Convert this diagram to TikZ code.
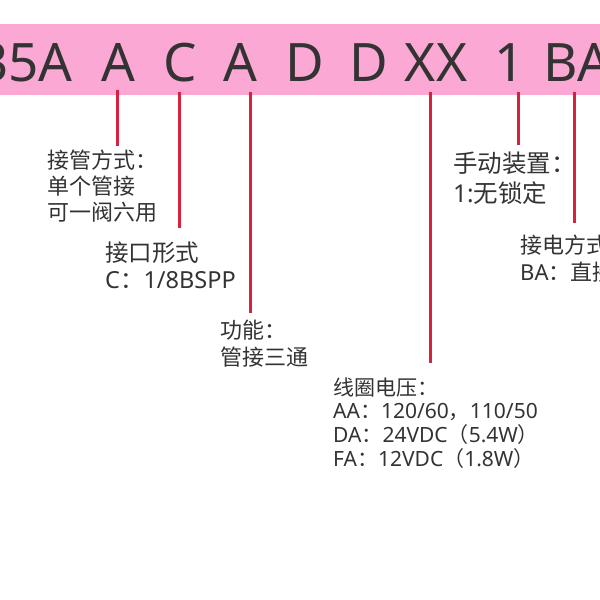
\documentclass[tikz,border=0pt]{standalone}
\usepackage{fontspec}
\setmainfont{Noto Sans}
\newfontfamily\cjk{Noto Sans CJK SC}
\definecolor{bandpink}{HTML}{FBA8D4}
\definecolor{leadred}{HTML}{D8213F}
\definecolor{txtgray}{HTML}{333333}
\newcommand{\zh}[1]{{\cjk #1}}
\begin{document}
\begin{tikzpicture}[x=1pt,y=-1pt,
  codeletter/.style={font=\fontsize{53}{53}\selectfont, text=txtgray, inner sep=0pt, anchor=base},
  lbl/.style={text=txtgray, inner sep=0pt, anchor=base west},
  fsA/.style={font=\fontsize{22}{26}\selectfont},
  fsB/.style={font=\fontsize{23.5}{28}\selectfont},
  fsC/.style={font=\fontsize{24.5}{29}\selectfont},
  fsD/.style={font=\fontsize{21}{24}\selectfont},
  lead/.style={draw=leadred, line width=3pt}]
\useasboundingbox (0,0) rectangle (600,600);
\begin{scope}
\clip (0,0) rectangle (600,600);
\fill[bandpink] (0,24) rectangle (600,95);
% code letters
\node[codeletter, anchor=base east] (c0) at (73,81.5) {35A};
\node[codeletter] (cA) at (118,81.5) {A};
\node[codeletter] (cC) at (180,81.5) {C};
\node[codeletter] (cA2) at (240,81.5) {A};
\node[codeletter] (cD) at (305,81.5) {D};
\node[codeletter] (cD2) at (369,81.5) {D};
\node[codeletter] (cX) at (436,81.5) {XX};
\node[codeletter] (c1) at (510,81.5) {1};
\node[codeletter, anchor=base west] (cB) at (543,81.5) {BA};
% line start / end coordinates
\coordinate (sA) at (117,90);   \coordinate (eA) at (117,146);
\coordinate (sC) at (179,92);   \coordinate (eC) at (179,228);
\coordinate (sA2) at (250,92);  \coordinate (eA2) at (250,313);
\coordinate (sX) at (430,92);   \coordinate (eX) at (430,363);
\coordinate (s1) at (518,92);   \coordinate (e1) at (518,145);
\coordinate (sB) at (574,92);   \coordinate (eB) at (574,223);
\draw[lead] (sA) -- (eA);
\draw[lead] (sC) -- (eC);
\draw[lead] (sA2) -- (eA2);
\draw[lead] (sX) -- (eX);
\draw[lead] (s1) -- (e1);
\draw[lead] (sB) -- (eB);
% labels
\node[lbl, fsA] (l1a) at (47,168.5) {\zh{接管方式：}};
\node[lbl, fsA] (l1b) at (47,194.5) {\zh{单个管接}};
\node[lbl, fsA] (l1c) at (47,220.5) {\zh{可一阀六用}};
\node[lbl, fsB] (l2a) at (105,261) {\zh{接口形式}};
\node[lbl, fsB] (l2b) at (105,288.5) {C\zh{：}1/8BSPP};
\node[lbl, fsA] (l3a) at (220,338) {\zh{功能：}};
\node[lbl, fsA] (l3b) at (220,365) {\zh{管接三通}};
\node[lbl, fsC] (l4a) at (453,172) {\zh{手动装置：}};
\node[lbl, fsC] (l4b) at (453,202) {1:\zh{无锁定}};
\node[lbl, fsA] (l5a) at (520,253.5) {\zh{接电方式}};
\node[lbl, fsA] (l5b) at (520,280) {BA\zh{：直接}};
\node[lbl, fsD] (l6a) at (333,395) {\zh{线圈电压：}};
\node[lbl, fsD] (l6b) at (333,418.5) {AA\zh{：}120/60\zh{，}110/50};
\node[lbl, fsD] (l6c) at (333,442.5) {DA\zh{：}24VDC\zh{（}5.4W\zh{）}};
\node[lbl, fsD] (l6d) at (333,466.5) {FA\zh{：}12VDC\zh{（}1.8W\zh{）}};
\end{scope}
\end{tikzpicture}
\end{document}
